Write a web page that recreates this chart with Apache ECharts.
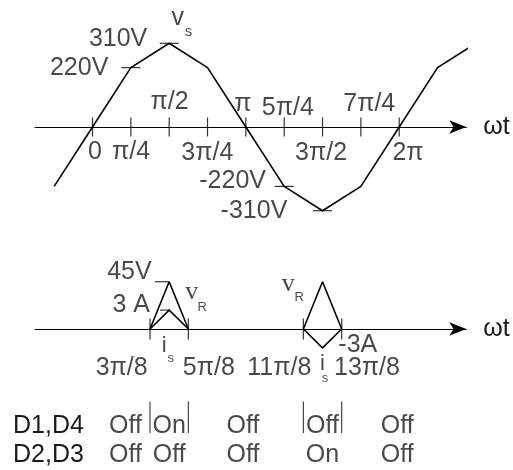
<!DOCTYPE html>
<html>
<head>
<meta charset="utf-8">
<script src="https://cdn.jsdelivr.net/npm/echarts@6/dist/echarts.min.js"></script>
<style>
  html, body { margin: 0; padding: 0; background: #fff; }
  #main { width: 513px; height: 470px; }
</style>
</head>
<body>
<div id="main"></div>
<script>
// x values are in units of pi/8 everywhere
const vsX = [-2, 0, 2, 4, 6, 8, 10, 12, 14, 16, 18, 20];
const vsY = [-220, 0, 220, 310, 220, 0, -220, -310, -220, 0, 220, 310];
const topTicks = [0, 2, 4, 6, 8, 10, 12, 14, 16];
const topTickLabels = ['0', 'π/4', 'π/2', '3π/4', 'π', '5π/4', '3π/2', '7π/4', '2π'];
const vsMarkX = [2, 4, 10, 12];
const vsMarkY = [220, 310, -220, -310];
const vsMarkLabels = ['220V', '310V', '-220V', '-310V'];

const pulseX = [[3, 4, 5], [11, 12, 13]];
const vRValues = [[0, 45, 0], [0, 45, 0]];
const iSValues = [[0, 3, 0], [0, -3, 0]];
const bottomTicks = [3, 5, 11, 13];
const bottomTickLabels = ['3π/8', '5π/8', '11π/8', '13π/8'];

const diodeRows = ['D1,D4', 'D2,D3'];
const stateSlots = [1.72, 4, 7.85, 12, 15.9];
const statesD14 = ['Off', 'On', 'Off', 'Off', 'Off'];
const statesD23 = ['Off', 'Off', 'Off', 'On', 'Off'];

const FONT = 'Liberation Sans';
const INK = '#1a1a1a';

var chart = echarts.init(document.getElementById('main'), null, { renderer: 'canvas' });

// text placed at a data point, shifted by a pixel offset
function txt(x, y, name, dx, dy, extra) {
  return { name: name, value: [x, y], label: Object.assign({ offset: [dx, dy] }, extra || {}) };
}
function textSeries(xi, yi, data) {
  return {
    type: 'scatter', xAxisIndex: xi, yAxisIndex: yi, symbol: 'circle', symbolSize: 0,
    silent: true, z: 5,
    label: {
      show: true, position: 'inside', formatter: '{b}', color: INK,
      fontFamily: FONT, fontSize: 25, align: 'center', verticalAlign: 'middle'
    },
    data: data
  };
}
function markSeries(xi, yi, size, data, offset) {
  return {
    type: 'scatter', xAxisIndex: xi, yAxisIndex: yi, symbol: 'rect', symbolSize: size,
    symbolOffset: offset || [0, 0], silent: true,
    itemStyle: { color: '#000' }, data: data
  };
}
function lineSeries(xi, yi, data) {
  return {
    type: 'line', xAxisIndex: xi, yAxisIndex: yi, data: data, symbol: 'none', clip: false,
    silent: true, lineStyle: { color: '#000', width: 1.6 }
  };
}

var arrowAxis = function (gi, show) {
  return {
    type: 'value', gridIndex: gi, min: -3, max: 19.5,
    name: show ? 'ωt' : '', nameLocation: 'end', nameGap: 17,
    nameTextStyle: { fontSize: 25, fontFamily: FONT, color: INK, padding: [0, 0, 25, 0] },
    axisLine: {
      show: show, onZero: true, symbol: ['none', 'arrow'], symbolSize: [10, 17],
      lineStyle: { color: '#000', width: 1.2 }
    },
    axisTick: { show: false }, axisLabel: { show: false }, splitLine: { show: false }
  };
};

// top waveform
var topTickLabelOffsets = [[2.5, 25], [0.2, 25], [0.3, -25], [-0.2, 26], [-2.9, -22.4], [3.6, -19], [-1.5, 26], [8.4, -22.4], [8.8, 26]];
var vsLabelOffsets = [[-22.5, 0.4], [-21.9, -3.7], [-18.2, -5], [-35.2, 0.6]];

var seriesList = [];
seriesList.push(lineSeries(0, 0, vsX.map((x, i) => [x, vsY[i]])));
seriesList.push(markSeries(0, 0, [1.2, 19], topTicks.map(t => [t, 0])));
seriesList.push(markSeries(0, 0, [19, 1.2], vsMarkX.map((x, i) => [x, vsMarkY[i]])));
seriesList.push(textSeries(0, 0, topTicks.map((t, i) =>
  txt(t, 0, topTickLabels[i], topTickLabelOffsets[i][0], topTickLabelOffsets[i][1]))));
seriesList.push(textSeries(0, 0, vsMarkX.map((x, i) =>
  txt(x, vsMarkY[i], vsMarkLabels[i], vsLabelOffsets[i][0], vsLabelOffsets[i][1], { align: 'right' }))));
seriesList.push(textSeries(0, 0, [
  txt(4, 310, 'v', 8.6, -25.3),
  txt(4, 310, 's', 19.3, -11.2, { fontSize: 15 })
]));

// bottom: v_R (volts, axis 1) and i_s (amps, axis 2)
pulseX.forEach(function (px, k) {
  seriesList.push(lineSeries(1, 1, px.map((x, i) => [x, vRValues[k][i]])));
  seriesList.push(lineSeries(1, 2, px.map((x, i) => [x, iSValues[k][i]])));
});
seriesList.push(markSeries(1, 1, [1.2, 21], bottomTicks.map(t => [t, 0])));
seriesList.push(markSeries(1, 1, [14.3, 1.2], [[4, 45]], [-7, 0]));
seriesList.push(markSeries(1, 2, [10, 1.2], [[4, 3]], [-4.2, 0]));
var bottomLabelOffsets = [[-28.3, 39], [20.5, 39], [-24.1, 39], [25.3, 39]];
seriesList.push(textSeries(1, 1, bottomTicks.map((t, i) =>
  txt(t, 0, bottomTickLabels[i], bottomLabelOffsets[i][0], bottomLabelOffsets[i][1]))));
var serif = { fontFamily: 'Liberation Serif', fontSize: 26 };
var sub = { fontSize: 13 };
seriesList.push(textSeries(1, 1, [
  txt(4, 45, '45V', -17.5, -9.4, { align: 'right' }),
  txt(4, 45, 'v', 22.5, 10.1, serif),
  txt(4, 45, 'R', 33.1, 25.5, sub),
  txt(12, 45, 'v', -34.2, 2.5, serif),
  txt(12, 45, 'R', -23.3, 15.5, sub)
]));
seriesList.push(textSeries(1, 2, [
  txt(4, 3, '3 A', -19.2, -4.5, { align: 'right' }),
  txt(12, -3, '-3A', 15.8, -3.3, { align: 'left' }),
  txt(4, 0, 'i', -5, 16.7, { fontSize: 22 }),
  txt(4, 0, 's', 1.6, 29.8, sub),
  txt(12, 0, 'i', -0.1, 35.1, { fontSize: 22 }),
  txt(12, 0, 's', 2.5, 49.8, sub)
]));

// diode state table
seriesList.push(markSeries(2, 3, [1.1, 31.6], bottomTicks.map(t => [t, diodeRows[0]]), [0, -8.8]));
seriesList.push(textSeries(2, 3, stateSlots.map((x, i) => txt(x, diodeRows[0], statesD14[i], 0, 0))
  .concat(stateSlots.map((x, i) => txt(x, diodeRows[1], statesD23[i], 0, 0)))));

var option = {
  animation: false,
  backgroundColor: '#fff',
  grid: [
    { left: 35, right: 46.7, top: 19, height: 216 },
    { left: 35, right: 46.7, top: 265.95, height: 126.1 },
    { left: 35, right: 46.7, top: 411.3, height: 60 }
  ],
  xAxis: [arrowAxis(0, true), arrowAxis(1, true), arrowAxis(2, false)],
  yAxis: [
    { type: 'value', gridIndex: 0, min: -400, max: 400, show: false },
    { type: 'value', gridIndex: 1, min: -60, max: 60, show: false },
    { type: 'value', gridIndex: 1, min: -10, max: 10, show: false },
    {
      type: 'category', gridIndex: 2, data: diodeRows, inverse: true,
      axisLine: { show: false }, axisTick: { show: false }, splitLine: { show: false },
      axisLabel: { interval: 0, align: 'left', margin: 22, fontSize: 25, fontFamily: FONT, color: INK }
    }
  ],
  series: seriesList
};
chart.setOption(option);
</script>
</body>
</html>
